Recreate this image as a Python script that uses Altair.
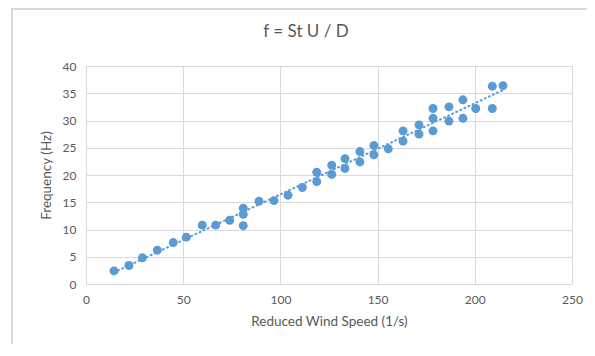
import altair as alt
import pandas as pd

# Reduced wind speed (1/s) and frequency (Hz)
speed = [14.4, 22.1, 29.0, 36.7, 44.9, 51.6, 59.8, 66.7, 73.9, 80.9, 80.9, 80.9,
         89.0, 96.7, 103.9, 111.3, 118.7, 118.7, 126.4, 126.4, 133.2, 133.2,
         140.9, 140.9, 148.1, 148.1, 155.5, 163.1, 163.1, 171.3, 171.3,
         178.5, 178.5, 178.5, 186.7, 186.7, 193.9, 193.9, 200.5, 209.0, 209.0, 214.5]
freq = [2.4, 3.4, 4.8, 6.2, 7.6, 8.6, 10.8, 10.8, 11.7, 10.7, 12.8, 13.9,
        15.2, 15.3, 16.3, 17.7, 18.8, 20.5, 20.1, 21.8, 21.2, 23.0,
        22.4, 24.3, 23.7, 25.4, 24.8, 26.2, 28.1, 27.5, 29.2,
        28.1, 30.4, 32.2, 29.9, 32.5, 30.4, 33.8, 32.2, 32.2, 36.3, 36.4]

x_ticks = [0, 50, 100, 150, 200, 250]
y_ticks = [0, 5, 10, 15, 20, 25, 30, 35, 40]

title_text = "f = St U / D"
x_title = "Reduced Wind Speed (1/s)"
y_title = "Frequency (Hz)"

df = pd.DataFrame({"speed": speed, "freq": freq})
title_df = pd.DataFrame({"label": [title_text]})

BLUE = "#5B9BD5"
GRID = "#D9D9D9"
TEXT = "#595959"
FONT = "Lato"

x_enc = alt.X("speed:Q", title=x_title,
              scale=alt.Scale(domain=[0, 250], nice=False),
              axis=alt.Axis(values=x_ticks, labelFlush=False))
y_enc = alt.Y("freq:Q", title=y_title,
              scale=alt.Scale(domain=[0, 40], nice=False),
              axis=alt.Axis(values=y_ticks, labelFlush=False))

points = alt.Chart(df).mark_circle(size=80, color=BLUE, opacity=1).encode(x=x_enc, y=y_enc)

trend = alt.Chart(df).transform_regression("speed", "freq", method="linear").mark_line(
    color=BLUE, strokeWidth=2, strokeDash=[1, 3.5], strokeCap="round"
).encode(x=x_enc, y=y_enc)

border_left = alt.Chart(df).mark_rule(color=GRID, strokeWidth=1.5).encode(
    x=alt.value(-74), y=alt.value(-58), y2=alt.value(300))
border_top = alt.Chart(df).mark_rule(color=GRID, strokeWidth=1.5).encode(
    x=alt.value(-74), x2=alt.value(520), y=alt.value(-57.5))

title_mark = alt.Chart(title_df).mark_text(
    font=FONT, fontSize=17, color=TEXT, align="center", baseline="middle"
).encode(text="label:N", x=alt.value(220), y=alt.value(-34))

chart = alt.layer(border_left, border_top, points, trend, title_mark).properties(
    width=486, height=218,
    autosize=alt.AutoSizeParams(type="none"),
    padding={"left": 78, "top": 58, "right": 15, "bottom": 60},
).configure_view(stroke=None).configure_axis(
    grid=True, gridColor=GRID, gridWidth=1, domain=False, ticks=False,
    labelFont=FONT, labelFontSize=12, labelColor=TEXT, labelPadding=10,
    titleFont=FONT, titleFontSize=13.5, titleColor=TEXT, titleFontWeight="normal",
).configure_axisX(titlePadding=9).configure_axisY(titlePadding=9)

chart.save("out.html", embed_options={"renderer": "svg", "actions": False})
